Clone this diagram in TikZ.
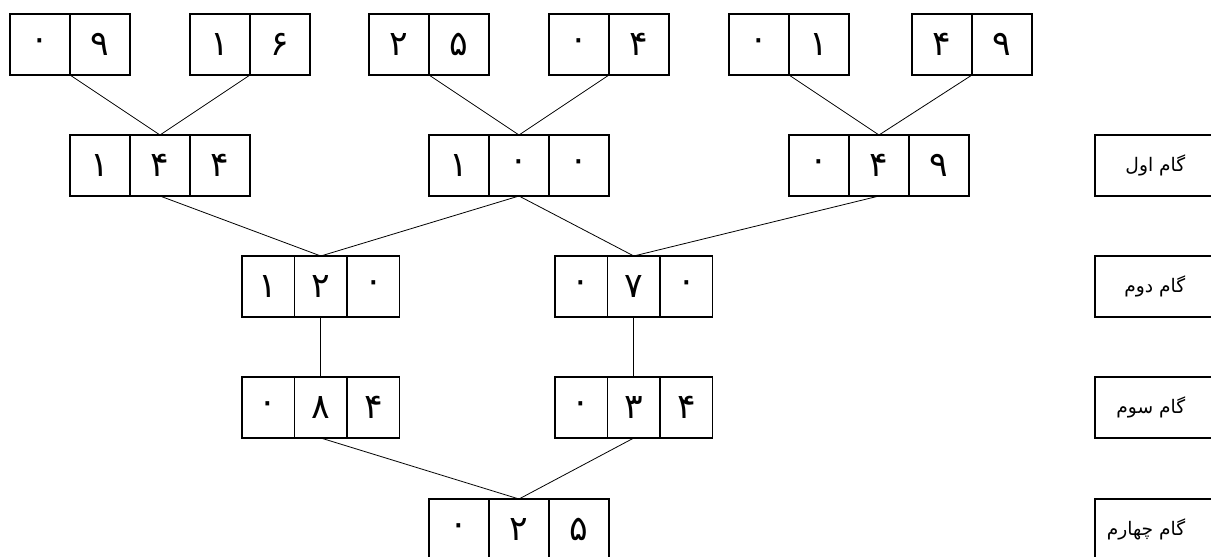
\documentclass[tikz,border=0pt]{standalone}
\usepackage{fontspec}
\newfontfamily\fa[Script=Arabic]{DejaVu Sans}
\TeXXeTstate=1
\usetikzlibrary{positioning}

\begin{document}
\begin{tikzpicture}[x=0.75pt,y=-0.75pt,
    cell/.style={draw,line width=1.3pt,minimum width=45pt,minimum height=45.75pt,
        inner sep=0pt,outer sep=0pt,font=\fa\fontsize{26}{30}\selectfont},
    slim/.style={cell,minimum width=39.4pt},
    stepbox/.style={draw,line width=1.3pt,minimum width=120pt,minimum height=45.75pt,
        anchor=north west,outer sep=0pt},
    steptext/.style={anchor=east,font=\fa\fontsize{14}{17}\selectfont},
    link/.style={line width=0.6pt}]
    \useasboundingbox (0,0) rectangle (1211,557);

    % top row
    \node[cell,anchor=north west] (p1a) at (10,14) {۰};
    \node[cell,right=0pt of p1a] (p1b) {۹};
    \node[cell,anchor=north west] (p2a) at (190,14) {۱};
    \node[cell,right=0pt of p2a] (p2b) {۶};
    \node[cell,anchor=north west] (p3a) at (369,14) {۲};
    \node[cell,right=0pt of p3a] (p3b) {۵};
    \node[cell,anchor=north west] (p4a) at (549,14) {۰};
    \node[cell,right=0pt of p4a] (p4b) {۴};
    \node[cell,anchor=north west] (p5a) at (729,14) {۰};
    \node[cell,right=0pt of p5a] (p5b) {۱};
    \node[cell,anchor=north west] (p6a) at (912,14) {۴};
    \node[cell,right=0pt of p6a] (p6b) {۹};

    % step 1
    \node[cell,anchor=north west] (q1a) at (70,135) {۱};
    \node[cell,right=0pt of q1a] (q1b) {۴};
    \node[cell,right=0pt of q1b] (q1c) {۴};
    \node[cell,anchor=north west] (q2a) at (429,135) {۱};
    \node[cell,right=0pt of q2a] (q2b) {۰};
    \node[cell,right=0pt of q2b] (q2c) {۰};
    \node[cell,anchor=north west] (q3a) at (789,135) {۰};
    \node[cell,right=0pt of q3a] (q3b) {۴};
    \node[cell,right=0pt of q3b] (q3c) {۹};

    % step 2
    \node[slim,anchor=north west] (r1a) at (242,256) {۱};
    \node[slim,right=0pt of r1a] (r1b) {۲};
    \node[slim,right=0pt of r1b] (r1c) {۰};
    \node[slim,anchor=north west] (r2a) at (555,256) {۰};
    \node[slim,right=0pt of r2a] (r2b) {۷};
    \node[slim,right=0pt of r2b] (r2c) {۰};

    % step 3
    \node[slim,anchor=north west] (s1a) at (242,377) {۰};
    \node[slim,right=0pt of s1a] (s1b) {۸};
    \node[slim,right=0pt of s1b] (s1c) {۴};
    \node[slim,anchor=north west] (s2a) at (555,377) {۰};
    \node[slim,right=0pt of s2a] (s2b) {۳};
    \node[slim,right=0pt of s2b] (s2c) {۴};

    % step 4
    \node[cell,anchor=north west] (u1a) at (429,499) {۰};
    \node[cell,right=0pt of u1a] (u1b) {۲};
    \node[cell,right=0pt of u1b] (u1c) {۵};

    % step labels
    \node[stepbox] (g1) at (1095,135) {};
    \node[steptext] (g1t) at (1190,165) {\beginR گام اول\endR};
    \node[stepbox] (g2) at (1095,256) {};
    \node[steptext] (g2t) at (1190,286) {\beginR گام دوم\endR};
    \node[stepbox] (g3) at (1095,377) {};
    \node[steptext] (g3t) at (1190,407) {\beginR گام سوم\endR};
    \node[stepbox] (g4) at (1095,499) {};
    \node[steptext] (g4t) at (1190,529) {\beginR گام چهارم\endR};

    % connectors
    \draw[link] (p1a.south east) -- (q1b.north);
    \draw[link] (p2a.south east) -- (q1b.north);
    \draw[link] (p3a.south east) -- (q2b.north);
    \draw[link] (p4a.south east) -- (q2b.north);
    \draw[link] (p5a.south east) -- (q3b.north);
    \draw[link] (p6a.south east) -- (q3b.north);
    \draw[link] (q1b.south) -- (r1b.north);
    \draw[link] (q2b.south) -- (r1b.north);
    \draw[link] (q2b.south) -- (r2b.north);
    \draw[link] (q3b.south) -- (r2b.north);
    \draw[link] (r1b.south) -- (s1b.north);
    \draw[link] (r2b.south) -- (s2b.north);
    \draw[link] (s1b.south) -- (u1b.north);
    \draw[link] (s2b.south) -- (u1b.north);
\end{tikzpicture}
\end{document}
